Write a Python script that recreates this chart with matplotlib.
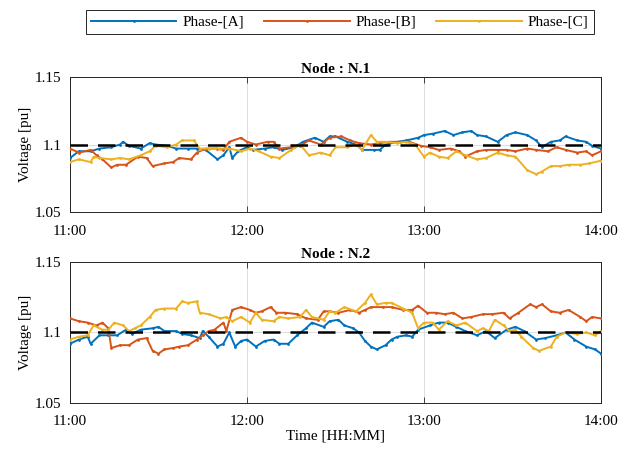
import matplotlib
matplotlib.use('Agg')
from matplotlib import pyplot as plt

plt.rcParams['font.family'] = ['Liberation Serif', 'DejaVu Serif']
plt.rcParams['mathtext.fontset'] = 'stix'

# time in minutes after 11:00
tick_minutes = [0, 60, 120, 180]
tick_labels = ['11:00', '12:00', '13:00', '14:00']
y_ticks = [1.05, 1.1, 1.15]
y_tick_labels = ['1.05', '1.1', '1.15']
v_ref = 1.1
phases = ['Phase-[A]', 'Phase-[B]', 'Phase-[C]']
colors = ['#0072BD', '#D95319', '#EDB120']

# Node N.1
t_n1_a = [0, 3, 7, 10, 14, 17, 18, 20, 24, 27, 29, 33, 36, 40, 43, 46, 50, 52, 54, 55,
          57, 60, 62, 66, 69, 72, 76, 79, 83, 86, 88, 90, 94, 97, 99, 103, 105, 107, 111, 114,
          118, 120, 123, 127, 130, 133, 136, 138, 141, 145, 148, 151, 155, 158, 160, 163, 166, 168, 172, 175,
          177, 180]
v_n1_a = [1.090, 1.095, 1.095, 1.097, 1.098, 1.100, 1.102, 1.099, 1.097, 1.101,
          1.100, 1.099, 1.097, 1.097, 1.097, 1.096, 1.089, 1.092, 1.098, 1.090,
          1.095, 1.098, 1.096, 1.097, 1.098, 1.096, 1.098, 1.102, 1.105, 1.102,
          1.106, 1.106, 1.102, 1.100, 1.096, 1.096, 1.096, 1.100, 1.102, 1.103,
          1.105, 1.107, 1.108, 1.110, 1.107, 1.109, 1.110, 1.107, 1.106, 1.102,
          1.107, 1.109, 1.107, 1.103, 1.098, 1.102, 1.103, 1.106, 1.103, 1.102,
          1.099, 1.097]
t_n1_b = [0, 3, 7, 9, 11, 14, 16, 19, 23, 26, 28, 32, 35, 37, 41, 43, 46, 50, 52, 54,
          58, 60, 63, 67, 69, 71, 75, 78, 81, 85, 88, 92, 95, 98, 102, 105, 108, 112, 115, 119,
          122, 125, 129, 132, 134, 138, 141, 145, 148, 151, 155, 158, 162, 165, 168, 172, 175, 177, 180]
v_n1_b = [1.097, 1.094, 1.096, 1.092, 1.089, 1.083, 1.085, 1.085, 1.091, 1.090,
          1.084, 1.086, 1.087, 1.090, 1.089, 1.094, 1.097, 1.097, 1.096, 1.102,
          1.105, 1.102, 1.100, 1.102, 1.102, 1.097, 1.098, 1.099, 1.103, 1.100,
          1.105, 1.106, 1.103, 1.101, 1.100, 1.101, 1.102, 1.102, 1.102, 1.099,
          1.098, 1.096, 1.097, 1.095, 1.091, 1.095, 1.096, 1.096, 1.096, 1.095,
          1.097, 1.096, 1.095, 1.098, 1.096, 1.094, 1.095, 1.092, 1.095]
t_n1_c = [0, 3, 7, 8, 10, 14, 17, 20, 24, 27, 29, 33, 36, 38, 42, 44, 47, 51, 54, 58,
          61, 64, 68, 71, 75, 78, 81, 85, 88, 90, 94, 97, 99, 102, 104, 107, 111, 114, 117,
          120, 122, 125, 128, 131, 134, 138, 141, 145, 148, 151, 155, 158, 160, 163, 166, 169, 173, 176, 180]
v_n1_c = [1.087, 1.089, 1.087, 1.091, 1.090, 1.089, 1.090, 1.089, 1.092, 1.095,
          1.099, 1.098, 1.100, 1.103, 1.103, 1.097, 1.097, 1.097, 1.097, 1.095,
          1.097, 1.095, 1.091, 1.090, 1.096, 1.100, 1.092, 1.094, 1.092,
          1.098, 1.098, 1.100, 1.096, 1.107, 1.102, 1.102, 1.101, 1.102, 1.100,
          1.091, 1.094, 1.091, 1.090, 1.095, 1.092, 1.089, 1.090, 1.094, 1.092,
          1.091, 1.081, 1.078, 1.080, 1.084, 1.084, 1.085, 1.085, 1.086, 1.088]

# Node N.2
t_n2_a = [0, 3, 6, 7, 10, 13, 16, 19, 21, 24, 28, 30, 32, 36, 38, 41, 44, 45, 47, 50,
          52, 54, 56, 58, 60, 63, 66, 69, 71, 74, 77, 80, 82, 86,
          88, 91, 93, 96, 98, 100, 102, 104, 107, 109, 111, 114, 116, 118, 122, 125,
          128, 131, 134, 138, 141, 144, 148, 151, 154, 158, 161, 165, 168, 171, 175, 178, 180]
v_n2_a = [1.092, 1.095, 1.097, 1.092, 1.098, 1.098, 1.098, 1.102, 1.099, 1.102,
          1.103, 1.104, 1.101, 1.101, 1.099, 1.098, 1.096, 1.101, 1.097, 1.090,
          1.092, 1.100, 1.090, 1.094, 1.095, 1.090, 1.094, 1.095, 1.092, 1.092,
          1.098, 1.103, 1.107, 1.104,
          1.108, 1.109, 1.105, 1.103, 1.100, 1.094, 1.090, 1.088, 1.091, 1.095,
          1.097, 1.098, 1.097, 1.102, 1.105, 1.107, 1.107, 1.104, 1.101, 1.098,
          1.101, 1.096, 1.102, 1.104, 1.101, 1.095, 1.096, 1.098, 1.100, 1.095,
          1.090, 1.088, 1.085]
t_n2_b = [0, 3, 6, 9, 11, 13, 14, 17, 20, 23, 26, 28, 30, 32, 35, 37, 40, 43, 45, 47,
          49, 52, 53, 55, 58, 61, 63, 65, 68, 70, 73, 77, 80, 84, 86,
          88, 91, 95, 98, 100, 102, 106, 109, 113, 116, 118, 121, 124, 127, 130, 133,
          136, 140, 143, 147, 149, 152, 156, 158, 160, 163, 166, 169, 173, 175, 177, 180]
v_n2_b = [1.110, 1.108, 1.107, 1.105, 1.107, 1.103, 1.089, 1.091, 1.091, 1.095,
          1.096, 1.087, 1.085, 1.088, 1.089, 1.090, 1.091, 1.095, 1.098, 1.101,
          1.102, 1.107, 1.101, 1.116, 1.118, 1.116, 1.114, 1.115, 1.118, 1.114,
          1.114, 1.113, 1.110, 1.109, 1.115,
          1.115, 1.114, 1.116, 1.114, 1.116, 1.118, 1.118, 1.118, 1.116, 1.116,
          1.119, 1.114, 1.114, 1.113, 1.114, 1.110, 1.111, 1.113, 1.113, 1.114,
          1.110, 1.114, 1.120, 1.118, 1.120, 1.115, 1.114, 1.116, 1.111, 1.108,
          1.111, 1.110]
t_n2_c = [0, 3, 6, 8, 11, 13, 15, 18, 20, 22, 24, 27, 29, 32, 36, 38, 40, 43, 44, 47,
          51, 53, 55, 58, 61, 63, 65, 69, 71, 74, 78, 80, 82, 86,
          88, 90, 93, 97, 100, 102, 104, 107, 109, 113, 116, 118, 120, 123, 125, 128,
          131, 134, 138, 140, 142, 144, 147, 149, 151, 153, 157, 159, 163, 165, 168, 172, 175, 178, 180]
v_n2_c = [1.095, 1.097, 1.098, 1.105, 1.102, 1.102, 1.107, 1.105, 1.101, 1.103,
          1.105, 1.111, 1.116, 1.117, 1.117, 1.122, 1.121, 1.122, 1.114, 1.113,
          1.110, 1.111, 1.108, 1.111, 1.107, 1.114, 1.109, 1.108, 1.111, 1.110,
          1.111, 1.116, 1.111, 1.109,
          1.115, 1.114, 1.118, 1.115, 1.121, 1.127, 1.120, 1.121, 1.121, 1.117,
          1.114, 1.103, 1.107, 1.107, 1.102, 1.108, 1.105, 1.107, 1.101, 1.103,
          1.101, 1.109, 1.105, 1.101, 1.102, 1.097, 1.089, 1.087, 1.090, 1.097,
          1.100, 1.099, 1.100, 1.098, 1.101]

nodes = [
    ('Node : N.1', [(t_n1_a, v_n1_a), (t_n1_b, v_n1_b), (t_n1_c, v_n1_c)]),
    ('Node : N.2', [(t_n2_a, v_n2_a), (t_n2_b, v_n2_b), (t_n2_c, v_n2_c)]),
]

fig = plt.figure(figsize=(6.34, 4.57), dpi=100)
ax1 = fig.add_axes([0.1104, 0.5361, 0.8375, 0.2954])
ax2 = fig.add_axes([0.1104, 0.1182, 0.8375, 0.3085])

handles = []
for ax, (title, series) in zip([ax1, ax2], nodes):
    for i, (t, v) in enumerate(series):
        h, = ax.plot(t, v, color=colors[i], linewidth=1.4, marker='.', markersize=2,
                     label=phases[i], zorder=3)
        if ax is ax1:
            handles.append(h)
    ax.plot([tick_minutes[0], tick_minutes[-1]], [v_ref, v_ref], color='black',
            linewidth=1.8, dashes=(7, 4), zorder=4)
    ax.set_xlim(tick_minutes[0], tick_minutes[-1])
    ax.set_ylim(y_ticks[0], y_ticks[-1])
    ax.set_xticks(tick_minutes)
    ax.set_xticklabels(tick_labels)
    ax.set_yticks(y_ticks)
    ax.set_yticklabels(y_tick_labels)
    ax.grid(True, color='#dcdcdc', linewidth=0.7)
    ax.set_axisbelow(True)
    ax.tick_params(direction='in', length=4, width=0.6, top=True, right=True,
                   labelsize=11, colors='#262626', labelcolor='black')
    ax.tick_params(axis='x', pad=9)
    ax.tick_params(axis='y', pad=6)
    for sp in ax.spines.values():
        sp.set_color('#262626')
        sp.set_linewidth(0.7)
    ax.set_ylabel('Voltage [pu]', fontsize=11, labelpad=2)
    ax.set_title(title, fontsize=11, fontweight='bold', pad=3)

ax2.set_xlabel('Time [HH:MM]', fontsize=11, labelpad=1)

leg = fig.legend(handles=handles, loc='upper center', bbox_to_anchor=(0.536, 0.995),
                 ncol=3, fontsize=11, handlelength=5.6, handletextpad=0.4,
                 columnspacing=1.3, fancybox=False, borderpad=0.35, framealpha=1)
leg.get_frame().set_edgecolor('#262626')
leg.get_frame().set_linewidth(0.7)

fig.savefig('out.png', dpi=100)
